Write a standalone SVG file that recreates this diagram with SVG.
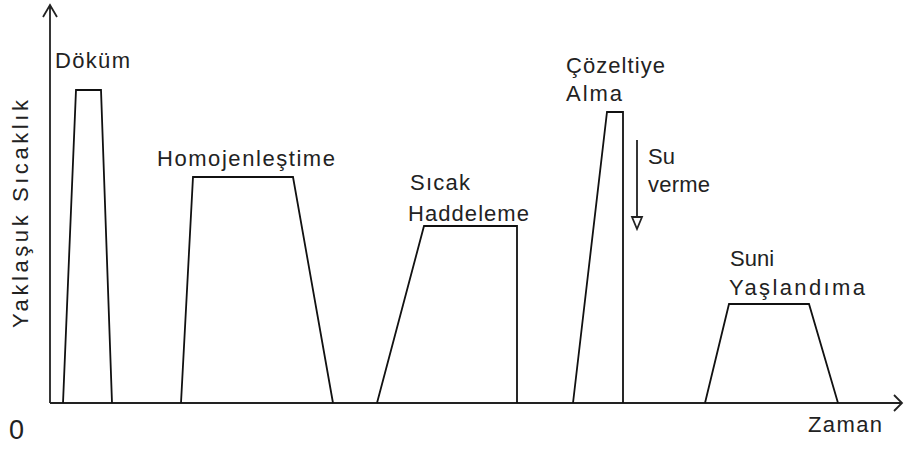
<svg xmlns="http://www.w3.org/2000/svg" width="904" height="450" viewBox="0 0 904 450">
<style>
.t{font-family:"Liberation Sans",Arial,sans-serif;font-size:22px;fill:#222}
.s{fill:none;stroke:#111;stroke-width:1.8;stroke-linejoin:miter}
.ax{fill:none;stroke:#222;stroke-width:1.8}
</style>
<rect width="904" height="450" fill="#fff"/>
<g id="axes" class="connectors">
<path class="ax" d="M50,403 V5 M43,17 L50,5 L57,17"/>
<path class="ax" d="M50,403 H902 M894,395 L902,403 L894,411"/>
<path class="ax" d="M637,140 V217 M632,217 H642 L637,229 Z"/>
</g>
<g id="y-label"><text class="t" transform="translate(28,328) rotate(-90)" textLength="228" lengthAdjust="spacing">Yaklaşuk Sıcaklık</text></g>
<g id="origin"><text class="t" x="9" y="439" style="font-size:27px">0</text></g>
<g id="x-label"><text class="t" x="808" y="432" textLength="74" lengthAdjust="spacing">Zaman</text></g>
<g id="dokum">
<path class="s" d="M63,403 L76,90 H101 L112,403"/>
<text class="t" x="55" y="68" textLength="75" lengthAdjust="spacing">Döküm</text>
</g>
<g id="homojen">
<path class="s" d="M181,403 L193,177 H293 L333,403"/>
<text class="t" x="157" y="166" textLength="178" lengthAdjust="spacing">Homojenleştime</text>
</g>
<g id="sicak">
<path class="s" d="M377,403 L424,226 H517 V403"/>
<text class="t" x="410" y="190" textLength="60" lengthAdjust="spacing">Sıcak</text>
<text class="t" x="408" y="221" textLength="121" lengthAdjust="spacing">Haddeleme</text>
</g>
<g id="cozeltiye">
<path class="s" d="M573,403 L607,112 H623 V403"/>
<text class="t" x="566" y="73" textLength="99" lengthAdjust="spacing">Çözeltiye</text>
<text class="t" x="566" y="101" textLength="56" lengthAdjust="spacing">Alma</text>
</g>
<g id="suverme">
<text class="t" x="648" y="164">Su</text>
<text class="t" x="648" y="192" textLength="62" lengthAdjust="spacing">verme</text>
</g>
<g id="suni">
<path class="s" d="M705,403 L729,304 H809 L838,403"/>
<text class="t" x="730" y="266">Suni</text>
<text class="t" x="729" y="295" textLength="136" lengthAdjust="spacing">Yaşlandıma</text>
</g>
</svg>
